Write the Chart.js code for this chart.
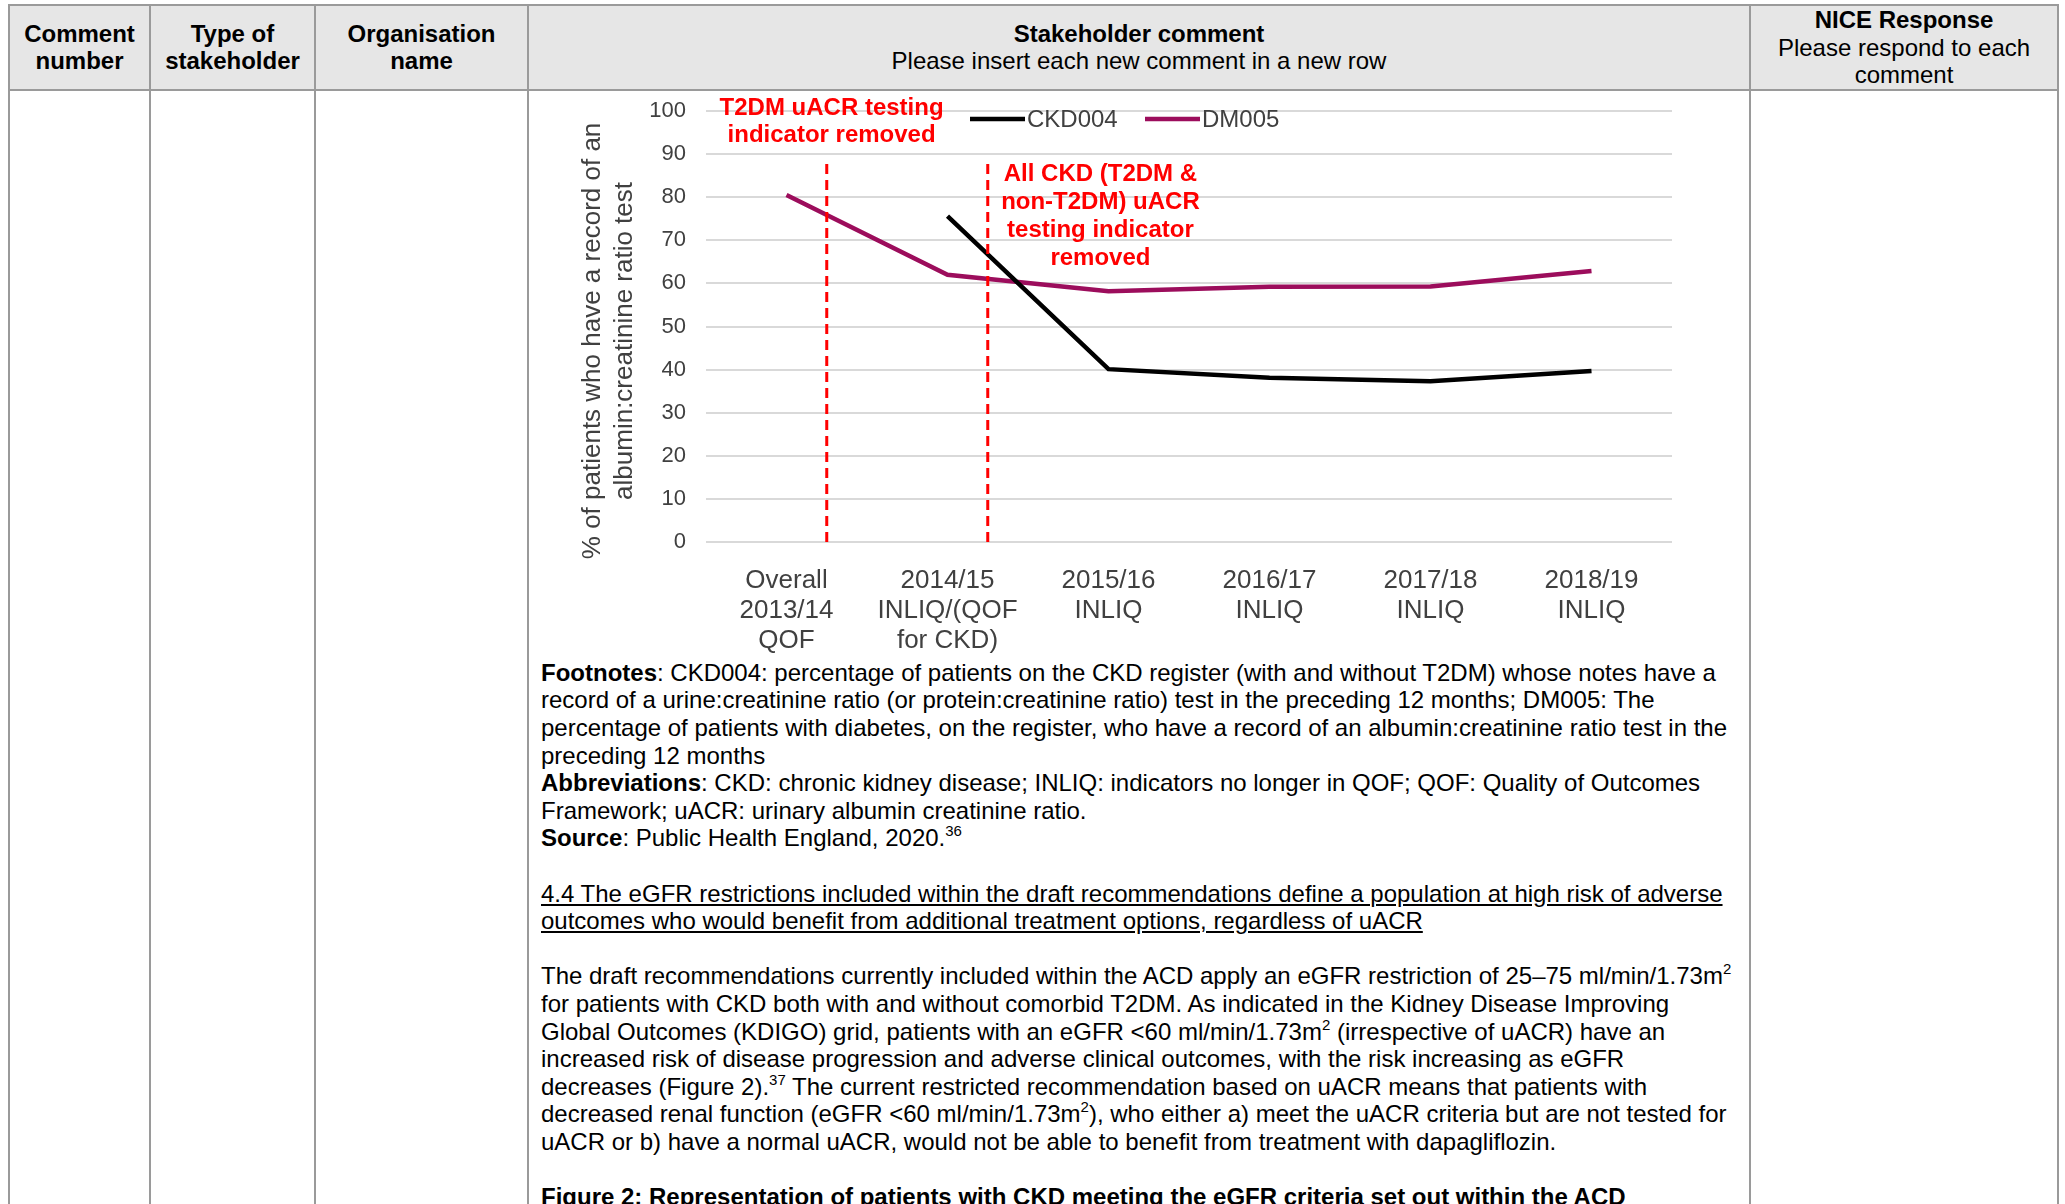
<!DOCTYPE html>
<html>
<head>
<meta charset="utf-8">
<script src="https://cdn.jsdelivr.net/npm/chart.js@4.4.1/dist/chart.umd.min.js"></script>
<style>
  html, body { margin: 0; padding: 0; background: #fff; }
  body {
    width: 2065px; height: 1204px; overflow: hidden; position: relative;
    font-family: "Liberation Sans", Arial, sans-serif; font-size: 24px; line-height: 27.6px; color: #000;
  }
  table { position: absolute; left: 8px; top: 4px; border-collapse: collapse; table-layout: fixed; }
  th, td { border: 2px solid #9a9a9a; padding: 0; }
  th { background: #e6e6e6; height: 82px; text-align: center; vertical-align: middle; font-weight: normal; }
  td { height: 1200px; vertical-align: top; }
  td.comment { padding: 2px 8px 0 12px; }
  .chart-box { position: relative; width: 1200px; height: 566px; }
  .txt { white-space: nowrap; }
  .gap { height: 27.6px; }
  sup { font-size: 15px; line-height: 0; vertical-align: baseline; position: relative; top: -10px; }
</style>
</head>
<body>
<table>
  <colgroup>
    <col style="width:141px"><col style="width:165px"><col style="width:213px"><col style="width:1222px"><col style="width:308px">
  </colgroup>
  <tr>
    <th><b>Comment<br>number</b></th>
    <th><b>Type of<br>stakeholder</b></th>
    <th><b>Organisation<br>name</b></th>
    <th><b>Stakeholder comment</b><br>Please insert each new comment in a new row</th>
    <th><b>NICE Response</b><br>Please respond to each<br>comment</th>
  </tr>
  <tr>
    <td></td>
    <td></td>
    <td></td>
    <td class="comment">
      <div class="chart-box"><canvas id="chart"></canvas></div>
      <div class="txt">
        <b>Footnotes</b>: CKD004: percentage of patients on the CKD register (with and without T2DM) whose notes have a<br>
        record of a urine:creatinine ratio (or protein:creatinine ratio) test in the preceding 12 months; DM005: The<br>
        percentage of patients with diabetes, on the register, who have a record of an albumin:creatinine ratio test in the<br>
        preceding 12 months<br>
        <b>Abbreviations</b>: CKD: chronic kidney disease; INLIQ: indicators no longer in QOF; QOF: Quality of Outcomes<br>
        Framework; uACR: urinary albumin creatinine ratio.<br>
        <b>Source</b>: Public Health England, 2020.<sup>36</sup>
      </div>
      <div class="gap"></div>
      <div class="txt"><u>4.4 The eGFR restrictions included within the draft recommendations define a population at high risk of adverse<br>
        outcomes who would benefit from additional treatment options, regardless of uACR</u></div>
      <div class="gap"></div>
      <div class="txt">
        The draft recommendations currently included within the ACD apply an eGFR restriction of 25–75 ml/min/1.73m<sup>2</sup><br>
        for patients with CKD both with and without comorbid T2DM. As indicated in the Kidney Disease Improving<br>
        Global Outcomes (KDIGO) grid, patients with an eGFR &lt;60 ml/min/1.73m<sup>2</sup> (irrespective of uACR) have an<br>
        increased risk of disease progression and adverse clinical outcomes, with the risk increasing as eGFR<br>
        decreases (Figure 2).<sup>37</sup> The current restricted recommendation based on uACR means that patients with<br>
        decreased renal function (eGFR &lt;60 ml/min/1.73m<sup>2</sup>), who either a) meet the uACR criteria but are not tested for<br>
        uACR or b) have a normal uACR, would not be able to benefit from treatment with dapagliflozin.
      </div>
      <div class="gap"></div>
      <div class="txt"><b>Figure 2: Representation of patients with CKD meeting the eGFR criteria set out within the ACD</b></div>
    </td>
    <td></td>
  </tr>
</table>

<script>
// Chart data
const categories = [
  ["Overall", "2013/14", "QOF"],
  ["2014/15", "INLIQ/(QOF", "for CKD)"],
  ["2015/16", "INLIQ"],
  ["2016/17", "INLIQ"],
  ["2017/18", "INLIQ"],
  ["2018/19", "INLIQ"],
];
const ckd004 = [null, 75.6, 40.1, 38.1, 37.3, 39.7];
const dm005 = [80.5, 62.0, 58.2, 59.2, 59.3, 62.9];

// Indicator removal markers (x in category units, dashed from 0 up to removedTop)
const removedAt = [0.25, 1.25];
const removedTop = 88;

// Red annotations: x in category units, y = value of first line
const noteLines = [
  ["T2DM uACR testing", "indicator removed"],
  ["All CKD (T2DM &", "non-T2DM) uACR", "testing indicator", "removed"],
];
const noteX = [0.28, 1.95];
const noteY = [100.7, 85.2];

const FONT = '"Liberation Sans", Arial, sans-serif';
const GREY = "#404040";

// Draws the red notes and the legend inside the plot area
const notesPlugin = {
  id: "notes",
  afterDatasetsDraw(chart) {
    const { ctx, chartArea } = chart;
    const xd = chart.scales.xd;
    const y = chart.scales.y;
    ctx.save();

    ctx.fillStyle = "#ff0000";
    ctx.font = `bold 24px ${FONT}`;
    ctx.textAlign = "center";
    ctx.textBaseline = "middle";
    noteLines.forEach((lines, i) => {
      const px = xd.getPixelForValue(noteX[i]);
      let py = y.getPixelForValue(noteY[i]);
      lines.forEach((t) => {
        ctx.fillText(t, px, py);
        py += 27.8;
      });
    });

    // legend
    const series = chart.data.datasets.filter((d) => d.label);
    const starts = [264, 439];
    const ly = chartArea.top + 8;
    ctx.font = `24px ${FONT}`;
    ctx.textAlign = "left";
    ctx.fillStyle = GREY;
    series.forEach((d, i) => {
      const x0 = chartArea.left + starts[i];
      ctx.strokeStyle = d.borderColor;
      ctx.lineWidth = d.borderWidth;
      ctx.beginPath();
      ctx.moveTo(x0, ly);
      ctx.lineTo(x0 + 55, ly);
      ctx.stroke();
      ctx.fillText(d.label, x0 + 57, ly + 1);
    });
    ctx.restore();
  },
};

const markerSets = removedAt.map((x) => ({
  label: "",
  xAxisID: "xd",
  data: [{ x: x, y: 0 }, { x: x, y: removedTop }],
  borderColor: "#ff0000",
  borderWidth: 3,
  borderDash: [10, 6],
  pointRadius: 0,
}));

new Chart(document.getElementById("chart").getContext("2d"), {
  type: "line",
  data: {
    labels: categories,
    datasets: [
      ...markerSets,
      {
        label: "CKD004",
        data: ckd004,
        borderColor: "#000000",
        borderWidth: 4.5,
        pointRadius: 0,
        tension: 0,
      },
      {
        label: "DM005",
        data: dm005,
        borderColor: "#9c0d5c",
        borderWidth: 4.5,
        pointRadius: 0,
        tension: 0,
      },
    ],
  },
  options: {
    responsive: true,
    maintainAspectRatio: false,
    animation: false,
    layout: { padding: { top: 5, right: 69, left: 0, bottom: 0 } },
    plugins: { legend: { display: false }, tooltip: { enabled: false } },
    scales: {
      x: {
        type: "category",
        offset: true,
        grid: { display: false },
        border: { display: false },
        ticks: {
          color: GREY,
          font: { family: FONT, size: 26, lineHeight: 30 / 26 },
          padding: 16,
          maxRotation: 0,
          autoSkip: false,
        },
        afterFit: (s) => { s.height = 117; },
      },
      xd: { type: "linear", display: false, min: -0.5, max: 5.5 },
      y: {
        min: 0,
        max: 100,
        ticks: { stepSize: 10, color: GREY, font: { family: FONT, size: 22 }, padding: 20 },
        grid: { color: "#d9d9d9", lineWidth: 2, drawTicks: false },
        border: { display: false },
        title: {
          display: true,
          text: ["% of patients who have a record of an    ", "albumin:creatinine ratio test    "],
          color: GREY,
          font: { family: FONT, size: 26, lineHeight: 32 / 26 },
          padding: { top: 36, bottom: 0 },
        },
        afterFit: (s) => {
          s.width = 165;
          s.paddingTop = 18;
        },
      },
    },
  },
  plugins: [notesPlugin],
});
</script>
</body>
</html>
